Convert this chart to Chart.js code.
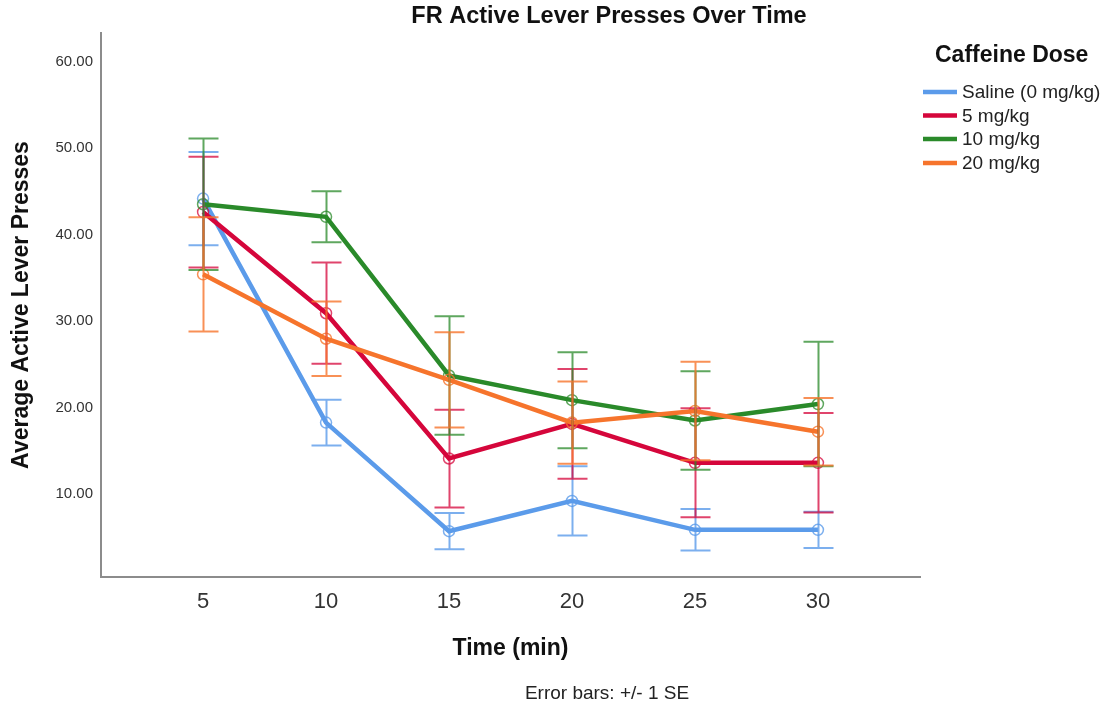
<!DOCTYPE html>
<html>
<head>
<meta charset="utf-8">
<script src="https://cdn.jsdelivr.net/npm/chart.js@4.4.1/dist/chart.umd.min.js"></script>
<style>
  html, body { margin: 0; padding: 0; background: #ffffff; }
  #wrap { width: 1105px; height: 707px; position: relative; }
</style>
</head>
<body>
<div id="wrap"><canvas id="c" width="1105" height="707"></canvas></div>
<script>
// ---- Data ----
const timePoints = [5, 10, 15, 20, 25, 30];
const yTickValues = [10, 20, 30, 40, 50, 60];
const seriesNames = ['Saline (0 mg/kg)', '5 mg/kg', '10 mg/kg', '20 mg/kg'];

const salineMean = [44.15, 18.25, 5.7, 9.2, 5.85, 5.85];
const salineSE   = [5.4, 2.65, 2.1, 4.0, 2.4, 2.1];
const dose5Mean  = [42.6, 30.9, 14.1, 18.1, 13.6, 13.6];
const dose5SE    = [6.4, 5.85, 5.65, 6.35, 6.3, 5.75];
const dose10Mean = [43.5, 42.05, 23.7, 20.85, 18.5, 20.4];
const dose10SE   = [7.6, 2.95, 6.85, 5.55, 5.7, 7.2];
const dose20Mean = [35.4, 27.95, 23.2, 18.25, 19.6, 17.2];
const dose20SE   = [6.6, 4.3, 5.5, 4.75, 5.7, 3.9];

const chartTitle = 'FR Active Lever Presses Over Time';
const legendTitle = 'Caffeine Dose';
const xTitle = 'Time (min)';
const yTitle = 'Average Active Lever Presses';
const footnote = 'Error bars: +/- 1 SE';

// ---- Styling ----
const FONT = '"Liberation Sans", Arial, Helvetica, sans-serif';
const colors = ['#5b9bea', '#d5063b', '#2a8a2a', '#f6742c'];
const errColors = ['rgba(91,155,234,0.8)', 'rgba(213,6,59,0.75)', 'rgba(42,138,42,0.75)', 'rgba(246,116,44,0.8)'];
const means = [salineMean, dose5Mean, dose10Mean, dose20Mean];
const ses = [salineSE, dose5SE, dose10SE, dose20SE];

const datasets = seriesNames.map((name, i) => ({
  label: name,
  data: timePoints.map((t, j) => ({ x: t, y: means[i][j] })),
  se: ses[i],
  errColor: errColors[i],
  borderColor: colors[i],
  borderWidth: 4.5,
  tension: 0,
  fill: false,
  pointRadius: 5.5,
  pointHoverRadius: 5.5,
  pointBorderWidth: 1.5,
  pointBorderColor: errColors[i],
  pointBackgroundColor: 'rgba(255,255,255,0)',
  order: 4 - i
}));

const errorBarsPlugin = {
  id: 'errorBars',
  afterDatasetsDraw(chart) {
    const { ctx, scales: { x, y } } = chart;
    const capHalf = 15;
    chart.data.datasets.forEach((ds) => {
      ctx.save();
      ctx.strokeStyle = ds.errColor;
      ctx.lineWidth = 2;
      ds.data.forEach((pt, j) => {
        const px = Math.round(x.getPixelForValue(pt.x)) + 0.5;
        const top = y.getPixelForValue(pt.y + ds.se[j]);
        const bot = y.getPixelForValue(pt.y - ds.se[j]);
        ctx.beginPath();
        ctx.moveTo(px, top); ctx.lineTo(px, bot);
        ctx.moveTo(px - capHalf, top); ctx.lineTo(px + capHalf, top);
        ctx.moveTo(px - capHalf, bot); ctx.lineTo(px + capHalf, bot);
        ctx.stroke();
      });
      ctx.restore();
    });
  }
};

const decorPlugin = {
  id: 'decor',
  afterDraw(chart) {
    const ctx = chart.ctx;
    ctx.save();
    // Title
    ctx.fillStyle = '#111';
    ctx.font = 'bold 23.5px ' + FONT;
    ctx.textAlign = 'center';
    ctx.textBaseline = 'middle';
    ctx.fillText(chartTitle, 609, 17);
    // Footnote
    ctx.font = '19px ' + FONT;
    ctx.fillStyle = '#222';
    ctx.fillText(footnote, 607, 694);
    // Legend
    ctx.textAlign = 'left';
    ctx.font = 'bold 23px ' + FONT;
    ctx.fillStyle = '#111';
    ctx.fillText(legendTitle, 935, 56);
    ctx.font = '19px ' + FONT;
    const rowY = [92, 115.5, 139, 163];
    seriesNames.forEach((name, i) => {
      ctx.strokeStyle = colors[i];
      ctx.lineWidth = 4.5;
      ctx.beginPath();
      ctx.moveTo(923, rowY[i]);
      ctx.lineTo(957, rowY[i]);
      ctx.stroke();
      ctx.fillStyle = '#222';
      ctx.fillText(name, 962, rowY[i] + 1);
    });
    ctx.restore();
  }
};

new Chart(document.getElementById('c'), {
  type: 'line',
  data: { datasets },
  plugins: [errorBarsPlugin, decorPlugin],
  options: {
    responsive: false,
    animation: false,
    events: [],
    layout: { padding: { left: 0, right: 185, top: 33, bottom: 0 } },
    plugins: { legend: { display: false }, tooltip: { enabled: false }, title: { display: false } },
    scales: {
      x: {
        type: 'linear',
        min: 0.85,
        max: 34.15,
        afterBuildTicks(scale) { scale.ticks = timePoints.map(v => ({ value: v })); },
        afterFit(scale) { scale.height = 130; },
        grid: { display: false, drawTicks: false },
        border: { display: true, color: '#8c8c8c', width: 2 },
        ticks: { padding: 12, color: '#333', font: { family: FONT, size: 22 }, callback: v => String(v) },
        title: { display: true, text: xTitle, color: '#111', font: { family: FONT, size: 23, weight: 'bold' }, padding: { top: 0, bottom: 45 } }
      },
      y: {
        type: 'linear',
        min: 0.4,
        max: 63.3,
        afterBuildTicks(scale) { scale.ticks = yTickValues.map(v => ({ value: v })); },
        afterFit(scale) { scale.width = 101; },
        grid: { display: false, drawTicks: false },
        border: { display: true, color: '#8c8c8c', width: 2 },
        ticks: { padding: 8, color: '#333', font: { family: FONT, size: 15 }, callback: v => Number(v).toFixed(2) },
        title: { display: true, text: yTitle, color: '#111', font: { family: FONT, size: 23, weight: 'bold' }, padding: { top: 8, bottom: 0 } }
      }
    }
  }
});
</script>
</body>
</html>
